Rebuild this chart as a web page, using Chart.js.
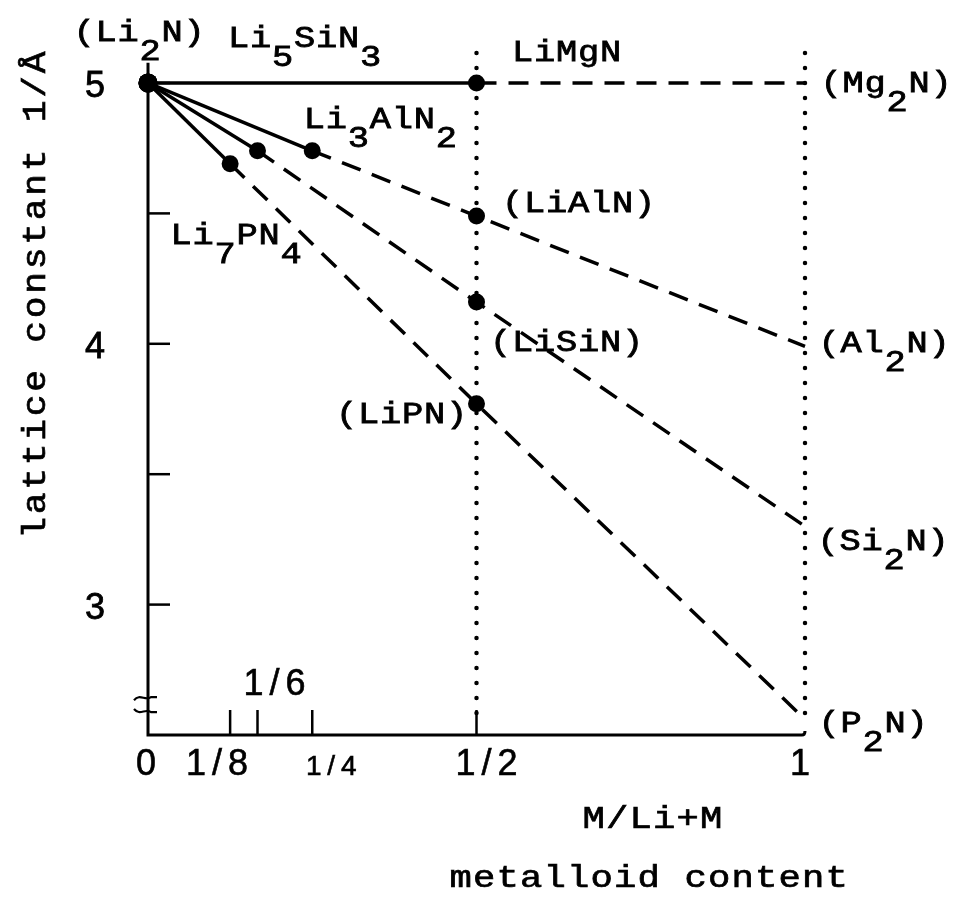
<!DOCTYPE html>
<html>
<head>
<meta charset="utf-8">
<title>Lattice constant vs metalloid content</title>
<script src="https://cdn.jsdelivr.net/npm/chart.js@4.4.1/dist/chart.umd.min.js"></script>
<style>
  html, body { margin: 0; padding: 0; background: #fff; }
  #wrap { width: 959px; height: 904px; }
</style>
</head>
<body>
<div id="wrap"><canvas id="chart" width="959" height="904"></canvas></div>
<script>
// Composition axis: M/(Li+M)
const mgX = [0, 1/2, 1];
const mgY = [5.00, 5.00, 5.00];
const alX = [0, 1/4, 1/2, 1];
const alY = [5.00, 4.74, 4.49, 3.99];
const siX = [0, 1/6, 1/2, 1];
const siY = [5.00, 4.74, 4.16, 3.30];
const pX  = [0, 1/8, 1/2, 1];
const pY  = [5.00, 4.69, 3.77, 2.56];

// Number of measured (marked) points at the start of each series
const mgMarked = 2;
const alMarked = 3;
const siMarked = 3;
const pMarked  = 3;

const xTickValues = [0, 1/8, 1/6, 1/4, 1/2, 1];
const xTickLabels = ['0', '1/8', '1/6', '1/4', '1/2', '1'];
const yTickValues = [3, 3.5, 4, 4.5, 5];
const yTickLabels = ['3', '', '4', '', '5'];
const guideX = [1/2, 1];

const xMin = 0, xMax = 1, yMin = 2.5, yMax = 5.115;

// Compound labels ("_" marks the next character as a subscript)
const compoundLabels = [
  { text: '(Li_2N)',    at: [mgX[0], mgY[0]], dx: -75,  dy: -42 },
  { text: 'Li_5SiN_3',  at: [siX[1], siY[1]], dx: -30,  dy: -104 },
  { text: 'LiMgN',      at: [mgX[1], mgY[1]], dx: 35,   dy: -22 },
  { text: 'Li_3AlN_2',  at: [alX[1], alY[1]], dx: -9,   dy: -23 },
  { text: 'Li_7PN_4',   at: [pX[1],  pY[1]],  dx: -60,  dy: 80 },
  { text: '(LiAlN)',    at: [alX[2], alY[2]], dx: 25,   dy: -4 },
  { text: '(LiSiN)',    at: [siX[2], siY[2]], dx: 13,   dy: 49 },
  { text: '(LiPN)',     at: [pX[2],  pY[2]],  dx: -141, dy: 19 },
  { text: '(Mg_2N)',    at: [mgX[2], mgY[2]], dx: 15,   dy: 9 },
  { text: '(Al_2N)',    at: [alX[3], alY[3]], dx: 13,   dy: 6 },
  { text: '(Si_2N)',    at: [siX[3], siY[3]], dx: 12,   dy: 24 },
  { text: '(P_2N)',     at: [pX[3],  pY[3]],  dx: 13,   dy: 13 }
];

// Tick label placement relative to the tick (center x offset, baseline)
const xLabelStyle = [
  { dx: -2,   base: 775, size: 36, pitch: 21 },
  { dx: -13,  base: 775, size: 36, pitch: 21 },
  { dx: 17,   base: 695, size: 36, pitch: 21 },
  { dx: 19,   base: 775, size: 28, pitch: 17.5 },
  { dx: 10,   base: 775, size: 36, pitch: 21 },
  { dx: -5,   base: 775, size: 36, pitch: 21 }
];

const MONO = '"Liberation Mono", "DejaVu Sans Mono", monospace';
const SANS = '"Liberation Sans", Arial, sans-serif';

function toPoints(xs, ys) {
  return xs.map((x, i) => ({ x: x, y: ys[i] }));
}

function series(xs, ys, marked) {
  return {
    data: toPoints(xs, ys),
    showLine: true,
    borderColor: '#000',
    borderWidth: 3.5,
    backgroundColor: '#000',
    pointBackgroundColor: '#000',
    pointBorderColor: '#000',
    pointBorderWidth: 0,
    pointRadius: ctx => (ctx.dataIndex < marked ? (ctx.dataIndex === 0 ? 9.5 : 8.5) : 0),
    pointHoverRadius: ctx => (ctx.dataIndex < marked ? 9 : 0),
    clip: false,
    tension: 0,
    segment: {
      borderDash: ctx => (ctx.p0DataIndex >= 1 ? [20, 12] : [])
    }
  };
}

// Draw text one character per fixed-width cell; "_" lowers the next char.
// sx widens each glyph horizontally; stroke thickens it a little.
function drawSpaced(ctx, text, left, baseline, pitch, subDrop, sx, stroke) {
  let i = 0, cell = 0;
  while (i < text.length) {
    let ch = text[i];
    let drop = 0;
    if (ch === '_') { i++; ch = text[i]; drop = subDrop; }
    ctx.save();
    ctx.translate(left + pitch * (cell + 0.5), baseline + drop);
    ctx.scale(sx || 1, 1);
    ctx.fillText(ch, 0, 0);
    if (stroke) { ctx.lineWidth = stroke; ctx.strokeText(ch, 0, 0); }
    ctx.restore();
    cell++; i++;
  }
}

const frame = {
  id: 'frame',
  beforeDraw(chart) {
    const ctx = chart.ctx;
    ctx.save();
    ctx.fillStyle = '#fff';
    ctx.fillRect(0, 0, chart.width, chart.height);
    ctx.restore();
  },
  beforeDatasetsDraw(chart) {
    const ctx = chart.ctx;
    const xs = chart.scales.x, ys = chart.scales.y;
    const x0 = xs.getPixelForValue(xMin), x1 = xs.getPixelForValue(xMax);
    const yb = ys.getPixelForValue(yMin);
    ctx.save();
    ctx.strokeStyle = '#000';

    // dotted guides at M/(Li+M) = 1/2 and 1
    ctx.lineWidth = 4.5;
    ctx.lineCap = 'round';
    ctx.setLineDash([0, 15]);
    guideX.forEach(v => {
      const px = xs.getPixelForValue(v);
      ctx.beginPath();
      ctx.moveTo(px, ys.getPixelForValue(yMax));
      ctx.lineTo(px, yb - 12);
      ctx.stroke();
    });
    ctx.setLineDash([]);

    // axes
    ctx.lineCap = 'butt';
    ctx.lineWidth = 3;
    ctx.beginPath();
    ctx.moveTo(x0, ys.getPixelForValue(5.078));
    ctx.lineTo(x0, yb);
    ctx.lineTo(x1 - 3, yb);
    ctx.quadraticCurveTo(x1, yb, x1, yb - 4);
    ctx.stroke();

    // y ticks (pointing inward)
    ctx.lineWidth = 2.5;
    yTickValues.forEach(v => {
      const py = ys.getPixelForValue(v);
      ctx.beginPath();
      ctx.moveTo(x0, py);
      ctx.lineTo(x0 + 22, py);
      ctx.stroke();
    });
    // x ticks (pointing up) for the intermediate compositions
    xTickValues.forEach(v => {
      if (v === xMin || v === xMax) return;
      const px = xs.getPixelForValue(v);
      ctx.beginPath();
      ctx.moveTo(px, yb);
      ctx.lineTo(px, yb - 25);
      ctx.stroke();
    });

    // axis break marks
    ctx.lineWidth = 2.2;
    [2.645, 2.588].forEach((v, k) => {
      const py = ys.getPixelForValue(v);
      const s = k === 0 ? 1 : -1;
      ctx.beginPath();
      ctx.moveTo(x0 - 14, py + 3 * s);
      ctx.bezierCurveTo(x0 - 8, py - 4 * s, x0 - 3, py + 4 * s, x0 + 3, py);
      ctx.lineTo(x0 + 9, py);
      ctx.stroke();
    });

    // tick labels
    ctx.fillStyle = '#000';
    ctx.textAlign = 'center';
    ctx.textBaseline = 'alphabetic';
    xTickValues.forEach((v, i) => {
      const st = xLabelStyle[i];
      const txt = xTickLabels[i];
      ctx.font = st.size + 'px ' + SANS;
      const cx = xs.getPixelForValue(v) + st.dx;
      const w = st.pitch * txt.length;
      drawSpaced(ctx, txt, cx - w / 2, st.base, st.pitch, 0, 1, 0.6);
    });
    ctx.font = '36px ' + SANS;
    ctx.textBaseline = 'middle';
    ctx.lineWidth = 0.8;
    yTickValues.forEach((v, i) => {
      if (!yTickLabels[i]) return;
      const py = ys.getPixelForValue(v) + 4;
      ctx.fillText(yTickLabels[i], 95, py);
      ctx.strokeText(yTickLabels[i], 95, py);
    });

    // axis titles
    ctx.textBaseline = 'alphabetic';
    ctx.font = '31px ' + MONO;
    drawSpaced(ctx, 'M/Li+M', 582, 828, 23.5, 0, 1.2, 0.7);
    drawSpaced(ctx, 'metalloid content', 449, 887, 23.5, 0, 1.2, 0.7);

    ctx.save();
    ctx.translate(45, 0);
    ctx.rotate(-Math.PI / 2);
    const t3 = 'lattice constant 1/Å';
    const pitchY = 24.5;
    ctx.font = '33px ' + MONO;
    // text runs upward, ending near the top of the axis
    drawSpaced(ctx, t3, -(50 + pitchY * t3.length), 0, pitchY, 0, 1.1, 0.7);
    ctx.restore();

    ctx.restore();
  },
  afterDatasetsDraw(chart) {
    const ctx = chart.ctx;
    const xs = chart.scales.x, ys = chart.scales.y;
    ctx.save();
    ctx.fillStyle = '#000';
    ctx.strokeStyle = '#000';
    ctx.font = '29px ' + MONO;
    ctx.textAlign = 'center';
    ctx.textBaseline = 'alphabetic';
    compoundLabels.forEach(l => {
      const px = xs.getPixelForValue(l.at[0]) + l.dx;
      const py = ys.getPixelForValue(l.at[1]) + l.dy;
      drawSpaced(ctx, l.text, px, py, 22, 19, 1.22, 0.8);
    });
    ctx.restore();
  }
};

new Chart(document.getElementById('chart'), {
  type: 'scatter',
  data: {
    datasets: [
      series(mgX, mgY, mgMarked),
      series(alX, alY, alMarked),
      series(siX, siY, siMarked),
      series(pX, pY, pMarked)
    ]
  },
  options: {
    responsive: false,
    animation: false,
    devicePixelRatio: 1,
    layout: { padding: { left: 148, right: 154, top: 53, bottom: 169 } },
    plugins: { legend: { display: false }, tooltip: { enabled: false } },
    scales: {
      x: { type: 'linear', min: xMin, max: xMax, display: false },
      y: { type: 'linear', min: yMin, max: yMax, display: false }
    }
  },
  plugins: [frame]
});
</script>
</body>
</html>
